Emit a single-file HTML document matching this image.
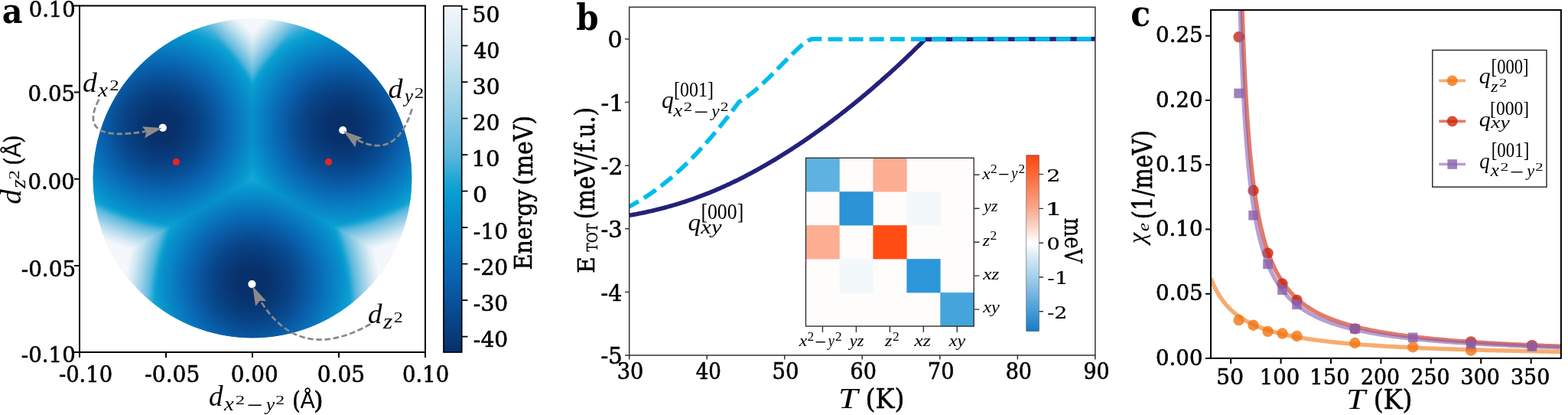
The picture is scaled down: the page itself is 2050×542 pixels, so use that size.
<!DOCTYPE html>
<html><head><meta charset="utf-8"><title>Figure</title>
<style>
html,body{margin:0;padding:0;background:#fff;}
body{width:2050px;height:542px;overflow:hidden;position:relative;}
#fb,#main{position:absolute;left:0;top:0;}
#hm{position:absolute;left:104px;top:8px;}
</style></head><body>
<svg id="fb" width="2050" height="542"><defs><radialGradient id="rg0" gradientUnits="userSpaceOnUse" cx="212.6" cy="165.9" r="260"><stop offset="0.000" stop-color="#08306b"/><stop offset="0.038" stop-color="#08306b"/><stop offset="0.077" stop-color="#08306b"/><stop offset="0.115" stop-color="#08326d"/><stop offset="0.154" stop-color="#083876"/><stop offset="0.192" stop-color="#083f80"/><stop offset="0.231" stop-color="#08478b"/><stop offset="0.269" stop-color="#085198"/><stop offset="0.308" stop-color="#095ca7"/><stop offset="0.346" stop-color="#0968b2"/><stop offset="0.385" stop-color="#0874bc"/><stop offset="0.423" stop-color="#0881c4"/><stop offset="0.462" stop-color="#078fca"/><stop offset="0.500" stop-color="#099ed1"/><stop offset="0.538" stop-color="#33acd7"/><stop offset="0.577" stop-color="#63bbde"/><stop offset="0.615" stop-color="#81c6e3"/><stop offset="0.654" stop-color="#9ed2e8"/><stop offset="0.692" stop-color="#badeed"/><stop offset="0.731" stop-color="#d3e8f3"/><stop offset="0.769" stop-color="#e8f2f8"/><stop offset="0.808" stop-color="#f4f7fb"/><stop offset="0.846" stop-color="#f4f7fb"/><stop offset="0.885" stop-color="#f4f7fb"/><stop offset="0.923" stop-color="#f4f7fb"/><stop offset="0.962" stop-color="#f4f7fb"/><stop offset="1.000" stop-color="#f4f7fb"/></radialGradient><radialGradient id="rg1" gradientUnits="userSpaceOnUse" cx="447.4" cy="165.9" r="260"><stop offset="0.000" stop-color="#08306b"/><stop offset="0.038" stop-color="#08306b"/><stop offset="0.077" stop-color="#08306b"/><stop offset="0.115" stop-color="#08326d"/><stop offset="0.154" stop-color="#083876"/><stop offset="0.192" stop-color="#083f80"/><stop offset="0.231" stop-color="#08478b"/><stop offset="0.269" stop-color="#085198"/><stop offset="0.308" stop-color="#095ca7"/><stop offset="0.346" stop-color="#0968b2"/><stop offset="0.385" stop-color="#0874bc"/><stop offset="0.423" stop-color="#0881c4"/><stop offset="0.462" stop-color="#078fca"/><stop offset="0.500" stop-color="#099ed1"/><stop offset="0.538" stop-color="#33acd7"/><stop offset="0.577" stop-color="#63bbde"/><stop offset="0.615" stop-color="#81c6e3"/><stop offset="0.654" stop-color="#9ed2e8"/><stop offset="0.692" stop-color="#badeed"/><stop offset="0.731" stop-color="#d3e8f3"/><stop offset="0.769" stop-color="#e8f2f8"/><stop offset="0.808" stop-color="#f4f7fb"/><stop offset="0.846" stop-color="#f4f7fb"/><stop offset="0.885" stop-color="#f4f7fb"/><stop offset="0.923" stop-color="#f4f7fb"/><stop offset="0.962" stop-color="#f4f7fb"/><stop offset="1.000" stop-color="#f4f7fb"/></radialGradient><radialGradient id="rg2" gradientUnits="userSpaceOnUse" cx="330.0" cy="369.5" r="260"><stop offset="0.000" stop-color="#08306b"/><stop offset="0.038" stop-color="#08306b"/><stop offset="0.077" stop-color="#08306b"/><stop offset="0.115" stop-color="#08326d"/><stop offset="0.154" stop-color="#083876"/><stop offset="0.192" stop-color="#083f80"/><stop offset="0.231" stop-color="#08478b"/><stop offset="0.269" stop-color="#085198"/><stop offset="0.308" stop-color="#095ca7"/><stop offset="0.346" stop-color="#0968b2"/><stop offset="0.385" stop-color="#0874bc"/><stop offset="0.423" stop-color="#0881c4"/><stop offset="0.462" stop-color="#078fca"/><stop offset="0.500" stop-color="#099ed1"/><stop offset="0.538" stop-color="#33acd7"/><stop offset="0.577" stop-color="#63bbde"/><stop offset="0.615" stop-color="#81c6e3"/><stop offset="0.654" stop-color="#9ed2e8"/><stop offset="0.692" stop-color="#badeed"/><stop offset="0.731" stop-color="#d3e8f3"/><stop offset="0.769" stop-color="#e8f2f8"/><stop offset="0.808" stop-color="#f4f7fb"/><stop offset="0.846" stop-color="#f4f7fb"/><stop offset="0.885" stop-color="#f4f7fb"/><stop offset="0.923" stop-color="#f4f7fb"/><stop offset="0.962" stop-color="#f4f7fb"/><stop offset="1.000" stop-color="#f4f7fb"/></radialGradient><linearGradient id="wg90" gradientUnits="userSpaceOnUse" x1="330.0" y1="111.6" x2="330.0" y2="25.8"><stop offset="0" stop-color="#9fd2ea" stop-opacity="0.2"/><stop offset="0.6" stop-color="#d8ebf5" stop-opacity="0.85"/><stop offset="1" stop-color="#f4f7fb"/></linearGradient><linearGradient id="wg210" gradientUnits="userSpaceOnUse" x1="224.3" y1="294.8" x2="149.9" y2="337.8"><stop offset="0" stop-color="#9fd2ea" stop-opacity="0.2"/><stop offset="0.6" stop-color="#d8ebf5" stop-opacity="0.85"/><stop offset="1" stop-color="#f4f7fb"/></linearGradient><linearGradient id="wg330" gradientUnits="userSpaceOnUse" x1="435.7" y1="294.8" x2="510.1" y2="337.8"><stop offset="0" stop-color="#9fd2ea" stop-opacity="0.2"/><stop offset="0.6" stop-color="#d8ebf5" stop-opacity="0.85"/><stop offset="1" stop-color="#f4f7fb"/></linearGradient><clipPath id="fbc"><circle cx="330" cy="233" r="208.3"/></clipPath></defs><g clip-path="url(#fbc)"><path d="M330,233.75 L330,-166.25 L-16.41,33.75 L-16.41,433.75Z" fill="url(#rg0)"/><path d="M330,233.75 L676.41,433.75 L676.41,33.75 L330,-166.25Z" fill="url(#rg1)"/><path d="M330,233.75 L-16.41,433.75 L330,633.75 L676.41,433.75Z" fill="url(#rg2)"/><path d="M330,111.58 L94.89,-212.03 L565.11,-212.03Z" fill="url(#wg90)"/><path d="M224.31,294.84 L134.33,684.59 L-158.21,177.89Z" fill="url(#wg210)"/><path d="M435.69,294.84 L818.21,177.89 L525.67,684.59Z" fill="url(#wg330)"/></g></svg>
<canvas id="hm" width="452" height="453"></canvas>
<svg id="main" width="2050" height="542">
<defs><linearGradient id="cba" x1="0" y1="0" x2="0" y2="1"><stop offset="0.0000" stop-color="#f4f7fb"/><stop offset="0.1141" stop-color="#d7eaf4"/><stop offset="0.2188" stop-color="#b4dbec"/><stop offset="0.3236" stop-color="#8bcae5"/><stop offset="0.4283" stop-color="#5cb8dd"/><stop offset="0.5016" stop-color="#20a6d5"/><stop offset="0.5330" stop-color="#0aa0d2"/><stop offset="0.5853" stop-color="#0793cc"/><stop offset="0.6901" stop-color="#087ac0"/><stop offset="0.7948" stop-color="#0960ac"/><stop offset="0.8995" stop-color="#08468a"/><stop offset="1.0000" stop-color="#08306b"/></linearGradient><linearGradient id="cbb" x1="0" y1="0" x2="0" y2="1"><stop offset="0" stop-color="#fc4510"/><stop offset="0.1" stop-color="#fc6534"/><stop offset="0.3" stop-color="#f9a68a"/><stop offset="0.42" stop-color="#fcdcd0"/><stop offset="0.5" stop-color="#ffffff"/><stop offset="0.58" stop-color="#d6e9f6"/><stop offset="0.7" stop-color="#a0cdeb"/><stop offset="0.9" stop-color="#3d98d6"/><stop offset="1" stop-color="#1a7ac4"/></linearGradient><clipPath id="clipb"><rect x="822.7" y="9.3" width="609.2" height="454.7"/></clipPath><clipPath id="clipc"><rect x="1583" y="13.1" width="457.9" height="454.8"/></clipPath></defs>
<circle cx="212.8" cy="166.8" r="5.1" fill="#fff"/>
<circle cx="448.2" cy="170" r="5.1" fill="#fff"/>
<circle cx="329.4" cy="371.1" r="5.1" fill="#fff"/>
<circle cx="230.4" cy="211.4" r="4.6" fill="#ee2020"/>
<circle cx="429.6" cy="211.4" r="4.6" fill="#ee2020"/>
<path d="M129.5,129.7 Q98.8,187.42 191.21,171.49" fill="none" stroke="#8a8a8a" stroke-width="2.7" stroke-dasharray="7.6 3.6"/>
<path d="M212.1,167.3 L189.13,180.46 L191.32,171.97 L185.71,165.24 Z" fill="#8a8a8a"/>
<path d="M538.7,142.4 Q518.05,209.12 466.9,182.6" fill="none" stroke="#8a8a8a" stroke-width="2.7" stroke-dasharray="7.6 3.6"/>
<path d="M448.9,171.1 L473.83,180.02 L465.95,183.87 L464.47,192.51 Z" fill="#8a8a8a"/>
<path d="M484.3,423.2 Q391.28,475.71 340.45,392.62" fill="none" stroke="#8a8a8a" stroke-width="2.7" stroke-dasharray="7.6 3.6"/>
<path d="M330.3,373.8 L348.24,393.27 L339.48,393.02 L334.16,399.99 Z" fill="#8a8a8a"/>
<rect x="104" y="7.5" width="452" height="452.5" fill="none" stroke="#000" stroke-width="2"/>
<path d="M97,7.5H104 M556,460V467 M97,120.62H104 M443,460V467 M97,233.75H104 M330,460V467 M97,346.88H104 M217,460V467 M97,460H104 M104,460V467" stroke="#000" stroke-width="2" fill="none"/>
<rect x="580" y="7.75" width="23.7" height="452.25" fill="url(#cba)" stroke="#000" stroke-width="1.7"/>
<path d="M603.8,12.1H611.5 M603.8,59.6H611.5 M603.8,107.1H611.5 M603.8,154.6H611.5 M603.8,202.1H611.5 M603.8,249.6H611.5 M603.8,297.1H611.5 M603.8,344.6H611.5 M603.8,392.1H611.5 M603.8,439.6H611.5" stroke="#000" stroke-width="1.7" fill="none"/>
<g clip-path="url(#clipb)"><path d="M822,281.44 L824,281.1 L825.99,280.74 L827.99,280.38 L829.99,280.01 L831.98,279.64 L833.98,279.25 L835.97,278.86 L837.97,278.46 L839.97,278.05 L841.96,277.64 L843.96,277.21 L845.96,276.78 L847.95,276.34 L849.95,275.89 L851.95,275.44 L853.94,274.97 L855.94,274.5 L857.94,274.02 L859.93,273.53 L861.93,273.03 L863.92,272.52 L865.92,272.01 L867.92,271.48 L869.91,270.95 L871.91,270.41 L873.91,269.86 L875.9,269.3 L877.9,268.73 L879.9,268.16 L881.89,267.57 L883.89,266.98 L885.88,266.37 L887.88,265.76 L889.88,265.14 L891.87,264.51 L893.87,263.87 L895.87,263.22 L897.86,262.56 L899.86,261.89 L901.86,261.22 L903.85,260.53 L905.85,259.83 L907.84,259.13 L909.84,258.41 L911.84,257.69 L913.83,256.95 L915.83,256.21 L917.83,255.46 L919.82,254.69 L921.82,253.92 L923.82,253.14 L925.81,252.35 L927.81,251.54 L929.81,250.73 L931.8,249.91 L933.8,249.08 L935.79,248.23 L937.79,247.38 L939.79,246.52 L941.78,245.65 L943.78,244.77 L945.78,243.87 L947.77,242.97 L949.77,242.06 L951.77,241.14 L953.76,240.21 L955.76,239.27 L957.75,238.32 L959.75,237.36 L961.75,236.39 L963.74,235.42 L965.74,234.43 L967.74,233.43 L969.73,232.43 L971.73,231.41 L973.73,230.39 L975.72,229.36 L977.72,228.31 L979.71,227.26 L981.71,226.2 L983.71,225.13 L985.7,224.05 L987.7,222.97 L989.7,221.87 L991.69,220.77 L993.69,219.65 L995.69,218.53 L997.68,217.4 L999.68,216.26 L1001.68,215.11 L1003.67,213.95 L1005.67,212.79 L1007.66,211.61 L1009.66,210.43 L1011.66,209.24 L1013.65,208.04 L1015.65,206.83 L1017.65,205.62 L1019.64,204.39 L1021.64,203.16 L1023.64,201.92 L1025.63,200.67 L1027.63,199.41 L1029.62,198.15 L1031.62,196.88 L1033.62,195.59 L1035.61,194.31 L1037.61,193.01 L1039.61,191.7 L1041.6,190.39 L1043.6,189.07 L1045.6,187.74 L1047.59,186.4 L1049.59,185.06 L1051.59,183.71 L1053.58,182.34 L1055.58,180.98 L1057.57,179.6 L1059.57,178.21 L1061.57,176.82 L1063.56,175.42 L1065.56,174.01 L1067.56,172.59 L1069.55,171.17 L1071.55,169.74 L1073.55,168.3 L1075.54,166.85 L1077.54,165.39 L1079.53,163.93 L1081.53,162.46 L1083.53,160.98 L1085.52,159.49 L1087.52,157.99 L1089.52,156.49 L1091.51,154.98 L1093.51,153.46 L1095.51,151.93 L1097.5,150.4 L1099.5,148.85 L1101.49,147.3 L1103.49,145.74 L1105.49,144.18 L1107.48,142.6 L1109.48,141.02 L1111.48,139.43 L1113.47,137.83 L1115.47,136.23 L1117.47,134.61 L1119.46,132.99 L1121.46,131.36 L1123.46,129.72 L1125.45,128.08 L1127.45,126.43 L1129.44,124.77 L1131.44,123.1 L1133.44,121.42 L1135.43,119.74 L1137.43,118.05 L1139.43,116.35 L1141.42,114.64 L1143.42,112.92 L1145.42,111.2 L1147.41,109.47 L1149.41,107.73 L1151.4,105.98 L1153.4,104.23 L1155.4,102.46 L1157.39,100.69 L1159.39,98.91 L1161.39,97.12 L1163.38,95.32 L1165.38,93.51 L1167.38,91.7 L1169.37,89.87 L1171.37,88.04 L1173.36,86.2 L1175.36,84.34 L1177.36,82.48 L1179.35,80.61 L1181.35,78.73 L1183.35,76.84 L1185.34,74.94 L1187.34,73.04 L1189.34,71.12 L1191.33,69.19 L1193.33,67.25 L1195.33,65.31 L1197.32,63.35 L1199.32,61.38 L1201.31,59.4 L1203.31,57.42 L1205.31,55.42 L1207.3,53.41 L1209.3,51.39 L1432.5,50.9" fill="none" stroke="#23217a" stroke-width="5.6"/>
<path id="dash" d="M822,269.97 L823.98,268.96 L825.95,267.92 L827.93,266.86 L829.91,265.77 L831.88,264.66 L833.86,263.53 L835.84,262.36 L837.81,261.18 L839.79,259.96 L841.77,258.73 L843.74,257.46 L845.72,256.18 L847.7,254.87 L849.67,253.53 L851.65,252.17 L853.63,250.78 L855.6,249.37 L857.58,247.93 L859.56,246.47 L861.53,244.99 L863.51,243.48 L865.49,241.95 L867.46,240.39 L869.44,238.81 L871.42,237.2 L873.39,235.57 L875.37,233.92 L877.35,232.24 L879.32,230.54 L881.3,228.81 L883.28,227.06 L885.25,225.29 L887.23,223.49 L889.21,221.67 L891.18,219.83 L893.16,217.96 L895.14,216.07 L897.12,214.15 L899.09,212.22 L901.07,210.25 L903.05,208.27 L905.02,206.26 L907,204.23 L908.98,202.18 L910.95,200.1 L912.93,198 L914.91,195.88 L916.88,193.73 L918.86,191.56 L920.84,189.37 L922.81,187.16 L924.79,184.92 L926.77,182.66 L928.74,180.38 L930.72,178.08 L932.7,175.75 L934.67,173.41 L936.65,171.03 L938.63,168.64 L940.6,166.23 L942.58,163.79 L944.56,161.33 L946.53,158.85 L948.51,156.35 L950.49,153.82 L952.46,151.28 L954.44,148.71 L956.42,146.12 L958.39,143.51 L960.37,140.87 L962.35,138.22 L964.32,135.54 L966.3,132.84 L968.29,131.86 L970.29,130.63 L972.28,129.34 L974.28,128 L976.27,126.59 L978.27,125.14 L980.26,123.63 L982.26,122.07 L984.25,120.47 L986.25,118.82 L988.24,117.13 L990.24,115.4 L992.23,113.64 L994.23,111.83 L996.22,110 L998.22,108.14 L1000.21,106.25 L1002.21,104.33 L1004.2,102.4 L1006.19,100.44 L1008.19,98.46 L1010.18,96.47 L1012.18,94.47 L1014.17,92.46 L1016.17,90.44 L1018.16,88.41 L1020.16,86.38 L1022.15,84.35 L1024.15,82.33 L1026.14,80.3 L1028.14,78.29 L1030.13,76.28 L1032.13,74.28 L1034.12,72.3 L1036.12,70.33 L1038.11,68.39 L1040.11,66.46 L1042.1,64.56 L1044.09,62.7 L1046.09,60.9 L1048.08,59.17 L1050.08,57.54 L1052.07,56.02 L1054.07,54.64 L1056.06,53.4 L1058.06,52.33 L1060.05,51.45 L1062.05,50.9 L1064.04,50.9 L1066.04,50.9 L1068.03,50.9 L1070.03,50.9 L1072.02,50.9 L1074.02,50.9 L1076.01,50.94 L1078.01,51.15 L1080,51.25 L1432.5,50.9" fill="none" stroke="#00bcec" stroke-width="5.6" stroke-dasharray="19 8.1" stroke-dashoffset="4.25"/></g>
<rect x="822.7" y="9.3" width="609.2" height="454.7" fill="none" stroke="#333" stroke-width="1.5"/>
<path d="M817.1,50.9H822.7 M817.1,133.52H822.7 M817.1,216.14H822.7 M817.1,298.76H822.7 M817.1,381.38H822.7 M817.1,464H822.7 M822.7,464V469.5 M924.23,464V469.5 M1025.76,464V469.5 M1127.29,464V469.5 M1228.82,464V469.5 M1330.35,464V469.5 M1431.88,464V469.5" stroke="#333" stroke-width="1.5" fill="none"/>
<rect x="1053.5" y="206.3" width="219.75" height="219.75" fill="#fffcfc"/>
<rect x="1053.50" y="206.30" width="44.25" height="44.25" fill="#5db2e2"/>
<rect x="1141.40" y="206.30" width="44.25" height="44.25" fill="#fdad92"/>
<rect x="1097.45" y="250.25" width="44.25" height="44.25" fill="#2c93d6"/>
<rect x="1185.35" y="250.25" width="44.25" height="44.25" fill="#f3f8fb"/>
<rect x="1053.50" y="294.20" width="44.25" height="44.25" fill="#fdad92"/>
<rect x="1141.40" y="294.20" width="44.25" height="44.25" fill="#ff4d14"/>
<rect x="1097.45" y="338.15" width="44.25" height="44.25" fill="#f3f8fb"/>
<rect x="1185.35" y="338.15" width="44.25" height="44.25" fill="#2c97d8"/>
<rect x="1229.30" y="382.10" width="44.25" height="44.25" fill="#44a5dc"/>
<rect x="1053.5" y="206.3" width="219.75" height="219.75" fill="none" stroke="#333" stroke-width="1.4"/>
<path d="M1273.25,228.28h7.3 M1273.25,272.23h7.3 M1273.25,316.18h7.3 M1273.25,360.12h7.3 M1273.25,404.08h7.3 M1075.47,426.05v8 M1119.42,426.05v8 M1163.38,426.05v8 M1207.33,426.05v8 M1251.28,426.05v8" stroke="#333" stroke-width="1.4" fill="none"/>
<rect x="1341.8" y="202.7" width="16.7" height="229.9" fill="url(#cbb)" stroke="#555" stroke-width="0.6"/>
<path d="M1358.5,227.6h5.5 M1358.5,272.4h5.5 M1358.5,317.2h5.5 M1358.5,362h5.5 M1358.5,406.8h5.5" stroke="#333" stroke-width="1.4" fill="none"/>
<g clip-path="url(#clipc)">
<path d="M1583,363.47 L1583.33,364.31 L1583.66,365.14 L1583.99,365.96 L1584.32,366.76 L1584.65,367.55 L1584.98,368.33 L1585.31,369.1 L1585.64,369.85 L1585.97,370.59 L1586.3,371.33 L1586.63,372.05 L1586.96,372.76 L1587.29,373.46 L1587.62,374.15 L1587.95,374.83 L1588.28,375.5 L1588.61,376.16 L1588.94,376.81 L1589.27,377.45 L1589.6,378.08 L1589.93,378.71 L1590.26,379.32 L1590.59,379.93 L1590.92,380.53 L1591.25,381.12 L1591.58,381.7 L1591.91,382.27 L1592.24,382.84 L1592.56,383.4 L1592.89,383.95 L1593.22,384.5 L1593.55,385.04 L1593.88,385.57 L1594.21,386.09 L1594.54,386.61 L1594.87,387.12 L1595.2,387.63 L1595.53,388.13 L1595.86,388.62 L1596.19,389.11 L1596.52,389.59 L1596.85,390.06 L1597.18,390.53 L1597.51,390.99 L1597.84,391.45 L1598.17,391.9 L1598.5,392.35 L1598.83,392.79 L1599.16,393.23 L1599.49,393.66 L1599.82,394.09 L1600.15,394.51 L1600.48,394.93 L1600.81,395.34 L1601.14,395.75 L1601.47,396.15 L1601.8,396.55 L1602.13,396.94 L1602.46,397.33 L1602.79,397.72 L1603.12,398.1 L1603.45,398.48 L1603.78,398.85 L1604.11,399.22 L1604.44,399.59 L1604.77,399.95 L1605.1,400.31 L1605.43,400.66 L1605.76,401.01 L1606.09,401.36 L1606.42,401.7 L1606.75,402.04 L1607.08,402.38 L1607.41,402.71 L1607.74,403.04 L1608.07,403.36 L1608.4,403.69 L1608.73,404.01 L1609.06,404.32 L1609.39,404.64 L1609.72,404.95 L1610.05,405.25 L1610.38,405.56 L1610.71,405.86 L1611.04,406.16 L1611.36,406.45 L1611.69,406.75 L1612.02,407.04 L1612.35,407.32 L1612.68,407.61 L1613.01,407.89 L1613.34,408.17 L1613.67,408.44 L1614,408.72 L1614.33,408.99 L1614.66,409.26 L1614.99,409.53 L1615.32,409.79 L1615.65,410.05 L1615.98,410.31 L1616.31,410.57 L1616.64,410.82 L1616.97,411.08 L1617.3,411.33 L1617.63,411.57 L1617.96,411.82 L1618.29,412.06 L1618.62,412.31 L1618.95,412.55 L1619.28,412.78 L1619.61,413.02 L1619.94,413.25 L1620.27,413.48 L1620.6,413.71 L1620.93,413.94 L1621.26,414.17 L1621.59,414.39 L1621.92,414.61 L1622.25,414.83 L1625.77,417.07 L1629.29,419.13 L1632.8,421.03 L1636.32,422.79 L1639.84,424.42 L1643.36,425.93 L1646.88,427.35 L1650.39,428.67 L1653.91,429.91 L1657.43,431.07 L1660.95,432.16 L1664.47,433.19 L1667.98,434.17 L1671.5,435.09 L1675.02,435.96 L1678.54,436.78 L1682.06,437.57 L1685.58,438.31 L1689.09,439.02 L1692.61,439.7 L1696.13,440.35 L1699.65,440.96 L1703.17,441.55 L1706.68,442.12 L1710.2,442.66 L1713.72,443.18 L1717.24,443.67 L1720.76,444.15 L1724.27,444.61 L1727.79,445.05 L1731.31,445.48 L1734.83,445.89 L1738.35,446.28 L1741.87,446.66 L1745.38,447.03 L1748.9,447.39 L1752.42,447.73 L1755.94,448.06 L1759.46,448.39 L1762.97,448.7 L1766.49,449 L1770.01,449.29 L1773.53,449.57 L1777.05,449.85 L1780.56,450.12 L1784.08,450.37 L1787.6,450.63 L1791.12,450.87 L1794.64,451.11 L1798.15,451.34 L1801.67,451.56 L1805.19,451.78 L1808.71,452 L1812.23,452.2 L1815.75,452.41 L1819.26,452.6 L1822.78,452.79 L1826.3,452.98 L1829.82,453.16 L1833.34,453.34 L1836.85,453.52 L1840.37,453.69 L1843.89,453.85 L1847.41,454.01 L1850.93,454.17 L1854.44,454.33 L1857.96,454.48 L1861.48,454.63 L1865,454.77 L1868.52,454.91 L1872.04,455.05 L1875.55,455.19 L1879.07,455.32 L1882.59,455.45 L1886.11,455.58 L1889.63,455.7 L1893.14,455.83 L1896.66,455.94 L1900.18,456.06 L1903.7,456.18 L1907.22,456.29 L1910.73,456.4 L1914.25,456.51 L1917.77,456.62 L1921.29,456.72 L1924.81,456.82 L1928.33,456.93 L1931.84,457.03 L1935.36,457.12 L1938.88,457.22 L1942.4,457.31 L1945.92,457.4 L1949.43,457.5 L1952.95,457.58 L1956.47,457.67 L1959.99,457.76 L1963.51,457.84 L1967.02,457.93 L1970.54,458.01 L1974.06,458.09 L1977.58,458.17 L1981.1,458.25 L1984.62,458.32 L1988.13,458.4 L1991.65,458.47 L1995.17,458.55 L1998.69,458.62 L2002.21,458.69 L2005.72,458.76 L2009.24,458.83 L2012.76,458.9 L2016.28,458.96 L2019.8,459.03 L2023.31,459.09 L2026.83,459.16 L2030.35,459.22 L2033.87,459.28 L2037.39,459.34 L2040.9,459.4" fill="none" stroke="#f27410" stroke-opacity="0.6" stroke-width="5.5" stroke-linejoin="round"/>
<circle cx="1619.63" cy="418.04" r="7.2" fill="#f27410" fill-opacity="0.8"/>
<circle cx="1638.60" cy="424.78" r="7.2" fill="#f27410" fill-opacity="0.8"/>
<circle cx="1657.57" cy="432.86" r="7.2" fill="#f27410" fill-opacity="0.8"/>
<circle cx="1676.54" cy="435.56" r="7.2" fill="#f27410" fill-opacity="0.8"/>
<circle cx="1695.51" cy="438.93" r="7.2" fill="#f27410" fill-opacity="0.8"/>
<circle cx="1771.40" cy="448.02" r="7.2" fill="#f27410" fill-opacity="0.8"/>
<circle cx="1847.28" cy="453.25" r="7.2" fill="#f27410" fill-opacity="0.8"/>
<circle cx="1923.16" cy="457.63" r="7.2" fill="#f27410" fill-opacity="0.8"/>
<path d="M1623.31,-12.15 L1623.64,-1.09 L1623.97,9.47 L1624.3,19.57 L1624.63,29.23 L1624.95,38.49 L1625.28,47.36 L1625.61,55.88 L1625.94,64.05 L1626.27,71.91 L1626.6,79.47 L1626.93,86.74 L1627.26,93.75 L1627.59,100.5 L1627.92,107.02 L1628.25,113.31 L1628.58,119.38 L1628.91,125.25 L1629.24,130.92 L1629.57,136.41 L1629.9,141.72 L1630.23,146.87 L1630.56,151.85 L1630.89,156.69 L1631.22,161.37 L1631.55,165.92 L1631.88,170.34 L1632.21,174.63 L1632.54,178.79 L1632.87,182.84 L1633.2,186.78 L1633.53,190.61 L1633.86,194.34 L1634.19,197.96 L1634.52,201.5 L1634.85,204.94 L1635.18,208.29 L1635.51,211.56 L1635.84,214.75 L1636.17,217.86 L1636.5,220.9 L1636.83,223.86 L1637.16,226.75 L1637.49,229.57 L1637.82,232.33 L1638.15,235.03 L1638.48,237.66 L1638.81,240.24 L1639.14,242.76 L1639.47,245.22 L1639.8,247.63 L1640.13,249.99 L1640.46,252.3 L1640.79,254.56 L1641.12,256.77 L1641.45,258.94 L1641.78,261.06 L1642.11,263.14 L1642.44,265.18 L1642.77,267.18 L1643.1,269.14 L1643.42,271.06 L1643.75,272.95 L1644.08,274.8 L1644.41,276.61 L1644.74,278.4 L1645.07,280.14 L1645.4,281.86 L1645.73,283.55 L1646.06,285.2 L1646.39,286.83 L1646.72,288.42 L1647.05,289.99 L1647.38,291.53 L1647.71,293.05 L1648.04,294.54 L1648.37,296 L1648.7,297.44 L1649.03,298.86 L1649.36,300.25 L1649.69,301.62 L1650.02,302.97 L1650.35,304.29 L1650.68,305.6 L1651.01,306.88 L1651.34,308.15 L1651.67,309.39 L1652,310.62 L1652.33,311.82 L1652.66,313.01 L1652.99,314.18 L1653.32,315.33 L1653.65,316.47 L1653.98,317.59 L1654.31,318.69 L1654.64,319.77 L1654.97,320.84 L1655.3,321.9 L1655.63,322.94 L1655.96,323.96 L1656.29,324.98 L1656.62,325.97 L1656.95,326.95 L1657.28,327.92 L1657.61,328.88 L1657.94,329.82 L1658.27,330.75 L1658.6,331.67 L1658.93,332.58 L1659.26,333.47 L1659.59,334.35 L1659.92,335.22 L1660.25,336.08 L1660.58,336.93 L1660.91,337.77 L1661.24,338.6 L1661.57,339.41 L1661.9,340.22 L1662.22,341.01 L1662.55,341.8 L1665.73,348.91 L1668.91,355.26 L1672.09,360.96 L1675.27,366.12 L1678.45,370.8 L1681.63,375.07 L1684.81,378.98 L1687.99,382.57 L1691.17,385.89 L1694.35,388.95 L1697.53,391.8 L1700.71,394.45 L1703.89,396.92 L1707.07,399.23 L1710.25,401.39 L1713.43,403.42 L1716.6,405.33 L1719.78,407.13 L1722.96,408.83 L1726.14,410.44 L1729.32,411.96 L1732.5,413.41 L1735.68,414.78 L1738.86,416.08 L1742.04,417.32 L1745.22,418.51 L1748.4,419.64 L1751.58,420.71 L1754.76,421.75 L1757.94,422.73 L1761.12,423.68 L1764.3,424.59 L1767.48,425.46 L1770.65,426.29 L1773.83,427.1 L1777.01,427.87 L1780.19,428.62 L1783.37,429.33 L1786.55,430.03 L1789.73,430.69 L1792.91,431.34 L1796.09,431.96 L1799.27,432.56 L1802.45,433.14 L1805.63,433.71 L1808.81,434.25 L1811.99,434.78 L1815.17,435.29 L1818.35,435.79 L1821.53,436.27 L1824.7,436.73 L1827.88,437.19 L1831.06,437.63 L1834.24,438.06 L1837.42,438.47 L1840.6,438.88 L1843.78,439.27 L1846.96,439.65 L1850.14,440.03 L1853.32,440.39 L1856.5,440.74 L1859.68,441.09 L1862.86,441.42 L1866.04,441.75 L1869.22,442.07 L1872.4,442.38 L1875.58,442.69 L1878.75,442.99 L1881.93,443.28 L1885.11,443.56 L1888.29,443.84 L1891.47,444.11 L1894.65,444.37 L1897.83,444.63 L1901.01,444.89 L1904.19,445.14 L1907.37,445.38 L1910.55,445.62 L1913.73,445.85 L1916.91,446.08 L1920.09,446.3 L1923.27,446.52 L1926.45,446.73 L1929.63,446.94 L1932.8,447.15 L1935.98,447.35 L1939.16,447.55 L1942.34,447.74 L1945.52,447.93 L1948.7,448.12 L1951.88,448.3 L1955.06,448.49 L1958.24,448.66 L1961.42,448.84 L1964.6,449.01 L1967.78,449.17 L1970.96,449.34 L1974.14,449.5 L1977.32,449.66 L1980.5,449.82 L1983.68,449.97 L1986.85,450.12 L1990.03,450.27 L1993.21,450.41 L1996.39,450.56 L1999.57,450.7 L2002.75,450.84 L2005.93,450.98 L2009.11,451.11 L2012.29,451.24 L2015.47,451.37 L2018.65,451.5 L2021.83,451.63 L2025.01,451.75 L2028.19,451.87 L2031.37,452 L2034.55,452.11 L2037.73,452.23 L2040.9,452.35" fill="none" stroke="#cf2309" stroke-opacity="0.6" stroke-width="5.5" stroke-linejoin="round"/>
<circle cx="1619.63" cy="48.32" r="7.2" fill="#cf2309" fill-opacity="0.8"/>
<circle cx="1638.60" cy="248.76" r="7.2" fill="#cf2309" fill-opacity="0.8"/>
<circle cx="1657.57" cy="330.62" r="7.2" fill="#cf2309" fill-opacity="0.8"/>
<circle cx="1676.54" cy="370.54" r="7.2" fill="#cf2309" fill-opacity="0.8"/>
<circle cx="1695.51" cy="391.93" r="7.2" fill="#cf2309" fill-opacity="0.8"/>
<circle cx="1771.40" cy="429.33" r="7.2" fill="#cf2309" fill-opacity="0.8"/>
<circle cx="1923.16" cy="446.34" r="7.2" fill="#cf2309" fill-opacity="0.8"/>
<circle cx="2002.96" cy="451.11" r="7.2" fill="#cf2309" fill-opacity="0.8"/>
<path d="M1620.58,-12.15 L1620.91,-0.05 L1621.24,11.46 L1621.57,22.42 L1621.9,32.87 L1622.23,42.83 L1622.56,52.35 L1622.89,61.46 L1623.22,70.17 L1623.55,78.52 L1623.88,86.52 L1624.21,94.2 L1624.54,101.58 L1624.87,108.67 L1625.2,115.49 L1625.53,122.06 L1625.86,128.39 L1626.19,134.49 L1626.52,140.38 L1626.85,146.06 L1627.18,151.55 L1627.51,156.85 L1627.84,161.98 L1628.17,166.94 L1628.5,171.74 L1628.83,176.4 L1629.15,180.91 L1629.48,185.28 L1629.81,189.52 L1630.14,193.63 L1630.47,197.63 L1630.8,201.51 L1631.13,205.28 L1631.46,208.94 L1631.79,212.51 L1632.12,215.98 L1632.45,219.35 L1632.78,222.64 L1633.11,225.84 L1633.44,228.95 L1633.77,231.99 L1634.1,234.95 L1634.43,237.84 L1634.76,240.66 L1635.09,243.41 L1635.42,246.09 L1635.75,248.71 L1636.08,251.27 L1636.41,253.77 L1636.74,256.21 L1637.07,258.6 L1637.4,260.94 L1637.73,263.22 L1638.06,265.45 L1638.39,267.64 L1638.72,269.78 L1639.05,271.87 L1639.38,273.92 L1639.71,275.93 L1640.04,277.89 L1640.37,279.82 L1640.7,281.71 L1641.03,283.56 L1641.36,285.37 L1641.69,287.15 L1642.02,288.89 L1642.35,290.6 L1642.68,292.28 L1643.01,293.93 L1643.34,295.54 L1643.67,297.13 L1644,298.69 L1644.33,300.22 L1644.66,301.72 L1644.99,303.19 L1645.32,304.64 L1645.65,306.07 L1645.98,307.47 L1646.31,308.84 L1646.64,310.19 L1646.97,311.52 L1647.3,312.83 L1647.62,314.11 L1647.95,315.38 L1648.28,316.62 L1648.61,317.85 L1648.94,319.05 L1649.27,320.23 L1649.6,321.4 L1649.93,322.55 L1650.26,323.68 L1650.59,324.79 L1650.92,325.88 L1651.25,326.96 L1651.58,328.03 L1651.91,329.07 L1652.24,330.1 L1652.57,331.12 L1652.9,332.12 L1653.23,333.11 L1653.56,334.08 L1653.89,335.04 L1654.22,335.98 L1654.55,336.91 L1654.88,337.83 L1655.21,338.74 L1655.54,339.63 L1655.87,340.51 L1656.2,341.38 L1656.53,342.24 L1656.86,343.08 L1657.19,343.92 L1657.52,344.74 L1657.85,345.55 L1658.18,346.35 L1658.51,347.14 L1658.84,347.92 L1659.17,348.69 L1659.5,349.46 L1659.83,350.21 L1663.03,357.03 L1666.23,363.11 L1669.44,368.56 L1672.64,373.47 L1675.84,377.92 L1679.04,381.96 L1682.24,385.66 L1685.45,389.05 L1688.65,392.18 L1691.85,395.06 L1695.05,397.74 L1698.26,400.22 L1701.46,402.54 L1704.66,404.7 L1707.86,406.72 L1711.07,408.62 L1714.27,410.4 L1717.47,412.08 L1720.67,413.67 L1723.87,415.16 L1727.08,416.58 L1730.28,417.92 L1733.48,419.2 L1736.68,420.41 L1739.89,421.56 L1743.09,422.66 L1746.29,423.7 L1749.49,424.7 L1752.7,425.66 L1755.9,426.57 L1759.1,427.44 L1762.3,428.28 L1765.51,429.09 L1768.71,429.86 L1771.91,430.6 L1775.11,431.32 L1778.31,432 L1781.52,432.67 L1784.72,433.3 L1787.92,433.92 L1791.12,434.51 L1794.33,435.09 L1797.53,435.64 L1800.73,436.18 L1803.93,436.69 L1807.14,437.19 L1810.34,437.68 L1813.54,438.15 L1816.74,438.61 L1819.94,439.05 L1823.15,439.48 L1826.35,439.89 L1829.55,440.3 L1832.75,440.69 L1835.96,441.07 L1839.16,441.45 L1842.36,441.81 L1845.56,442.16 L1848.77,442.5 L1851.97,442.83 L1855.17,443.16 L1858.37,443.47 L1861.57,443.78 L1864.78,444.08 L1867.98,444.38 L1871.18,444.66 L1874.38,444.94 L1877.59,445.21 L1880.79,445.48 L1883.99,445.74 L1887.19,445.99 L1890.4,446.24 L1893.6,446.49 L1896.8,446.72 L1900,446.95 L1903.21,447.18 L1906.41,447.4 L1909.61,447.62 L1912.81,447.83 L1916.01,448.04 L1919.22,448.25 L1922.42,448.45 L1925.62,448.64 L1928.82,448.84 L1932.03,449.02 L1935.23,449.21 L1938.43,449.39 L1941.63,449.57 L1944.84,449.74 L1948.04,449.91 L1951.24,450.08 L1954.44,450.24 L1957.64,450.41 L1960.85,450.56 L1964.05,450.72 L1967.25,450.87 L1970.45,451.02 L1973.66,451.17 L1976.86,451.32 L1980.06,451.46 L1983.26,451.6 L1986.47,451.74 L1989.67,451.87 L1992.87,452.01 L1996.07,452.14 L1999.27,452.27 L2002.48,452.39 L2005.68,452.52 L2008.88,452.64 L2012.08,452.76 L2015.29,452.88 L2018.49,453 L2021.69,453.11 L2024.89,453.23 L2028.1,453.34 L2031.3,453.45 L2034.5,453.56 L2037.7,453.66 L2040.9,453.77" fill="none" stroke="#8860ae" stroke-opacity="0.6" stroke-width="5.5" stroke-linejoin="round"/>
<rect x="1613.33" y="115.62" width="12.6" height="12.6" fill="#8860ae" fill-opacity="0.8"/>
<rect x="1632.30" y="274.97" width="12.6" height="12.6" fill="#8860ae" fill-opacity="0.8"/>
<rect x="1651.27" y="338.64" width="12.6" height="12.6" fill="#8860ae" fill-opacity="0.8"/>
<rect x="1670.24" y="372.33" width="12.6" height="12.6" fill="#8860ae" fill-opacity="0.8"/>
<rect x="1689.21" y="391.36" width="12.6" height="12.6" fill="#8860ae" fill-opacity="0.8"/>
<rect x="1765.10" y="423.03" width="12.6" height="12.6" fill="#8860ae" fill-opacity="0.8"/>
<rect x="1840.98" y="434.48" width="12.6" height="12.6" fill="#8860ae" fill-opacity="0.8"/>
<rect x="1916.86" y="443.07" width="12.6" height="12.6" fill="#8860ae" fill-opacity="0.8"/>
<rect x="1996.66" y="446.27" width="12.6" height="12.6" fill="#8860ae" fill-opacity="0.8"/>
</g>
<rect x="1583" y="13.1" width="457.9" height="454.8" fill="none" stroke="#000" stroke-width="2"/>
<path d="M1576,467.9H1583 M1576,383.68H1583 M1576,299.46H1583 M1576,215.24H1583 M1576,131.02H1583 M1576,46.8H1583 M1609.17,467.9V474.9 M1674.58,467.9V474.9 M1740,467.9V474.9 M1805.41,467.9V474.9 M1870.83,467.9V474.9 M1936.24,467.9V474.9 M2001.66,467.9V474.9" stroke="#000" stroke-width="2" fill="none"/>
<rect x="1872.8" y="65.5" width="149.2" height="178.7" fill="#fff" fill-opacity="0.8" stroke="#222" stroke-width="1.4"/>
<path d="M1881.3,105.4H1916.1" stroke="#f27410" stroke-opacity="0.6" stroke-width="3.6"/>
<circle cx="1898.7" cy="105.4" r="7" fill="#f27410" fill-opacity="0.8"/>
<path d="M1881.3,158.4H1916.1" stroke="#cf2309" stroke-opacity="0.6" stroke-width="3.6"/>
<circle cx="1898.7" cy="158.4" r="7" fill="#cf2309" fill-opacity="0.8"/>
<path d="M1881.3,214.5H1916.1" stroke="#8860ae" stroke-opacity="0.6" stroke-width="3.6"/>
<rect x="1892.40" y="208.20" width="12.6" height="12.6" fill="#8860ae" fill-opacity="0.8"/>
<text transform="translate(2.74,30.15) scale(0.4138,0.4500)" style="font:bold 100px 'DejaVu Serif', serif;font-size:100px" fill="#000">a</text>
<text transform="translate(753.16,38.54) scale(0.4203,0.4584)" style="font:bold 100px 'DejaVu Serif', serif;font-size:100px" fill="#000">b</text>
<text transform="translate(1478.29,33.54) scale(0.4269,0.4611)" style="font:bold 100px 'DejaVu Serif', serif;font-size:100px" fill="#000">c</text>
<text transform="translate(37.68,22.21) scale(0.2746,0.2880)" style="font:100px 'DejaVu Serif', serif;font-size:100px" fill="#000" stroke="#000" stroke-width="2.13">0.10</text>
<text transform="translate(36.56,132.41) scale(0.2764,0.2880)" style="font:100px 'DejaVu Serif', serif;font-size:100px" fill="#000" stroke="#000" stroke-width="2.13">0.05</text>
<text transform="translate(36.57,246.52) scale(0.2751,0.2773)" style="font:100px 'DejaVu Serif', serif;font-size:100px" fill="#000" stroke="#000" stroke-width="2.17">0.00</text>
<text transform="translate(27.79,361.02) scale(0.2780,0.2840)" style="font:100px 'DejaVu Serif', serif;font-size:100px" fill="#000" stroke="#000" stroke-width="2.14">-0.05</text>
<text transform="translate(27.79,473.12) scale(0.2768,0.2827)" style="font:100px 'DejaVu Serif', serif;font-size:100px" fill="#000" stroke="#000" stroke-width="2.14">-0.10</text>
<text transform="translate(76.90,498.71) scale(0.2740,0.2933)" style="font:100px 'DejaVu Serif', serif;font-size:100px" fill="#000" stroke="#000" stroke-width="2.12">-0.10</text>
<text transform="translate(189.28,498.71) scale(0.2812,0.2933)" style="font:100px 'DejaVu Serif', serif;font-size:100px" fill="#000" stroke="#000" stroke-width="2.09">-0.05</text>
<text transform="translate(301.65,498.71) scale(0.2785,0.2933)" style="font:100px 'DejaVu Serif', serif;font-size:100px" fill="#000" stroke="#000" stroke-width="2.10">0.00</text>
<text transform="translate(414.74,498.71) scale(0.2803,0.2933)" style="font:100px 'DejaVu Serif', serif;font-size:100px" fill="#000" stroke="#000" stroke-width="2.09">0.05</text>
<text transform="translate(526.07,498.71) scale(0.2751,0.2933)" style="font:100px 'DejaVu Serif', serif;font-size:100px" fill="#000" stroke="#000" stroke-width="2.11">0.10</text>
<text transform="translate(617.45,28.61) scale(0.2838,0.2880)" style="font:100px 'DejaVu Serif', serif;font-size:100px" fill="#000" stroke="#000" stroke-width="2.10">50</text>
<text transform="translate(619.19,75.78) scale(0.2692,0.2880)" style="font:100px 'DejaVu Serif', serif;font-size:100px" fill="#000" stroke="#000" stroke-width="2.15">40</text>
<text transform="translate(617.75,122.95) scale(0.2812,0.2880)" style="font:100px 'DejaVu Serif', serif;font-size:100px" fill="#000" stroke="#000" stroke-width="2.11">30</text>
<text transform="translate(618.05,170.12) scale(0.2788,0.2880)" style="font:100px 'DejaVu Serif', serif;font-size:100px" fill="#000" stroke="#000" stroke-width="2.12">20</text>
<text transform="translate(616.50,217.29) scale(0.2917,0.2880)" style="font:100px 'DejaVu Serif', serif;font-size:100px" fill="#000" stroke="#000" stroke-width="2.07">10</text>
<text transform="translate(617.90,264.46) scale(0.3000,0.2880)" style="font:100px 'DejaVu Serif', serif;font-size:100px" fill="#000" stroke="#000" stroke-width="2.04">0</text>
<text transform="translate(618.87,311.63) scale(0.2820,0.2880)" style="font:100px 'DejaVu Serif', serif;font-size:100px" fill="#000" stroke="#000" stroke-width="2.11">-10</text>
<text transform="translate(618.87,358.80) scale(0.2820,0.2880)" style="font:100px 'DejaVu Serif', serif;font-size:100px" fill="#000" stroke="#000" stroke-width="2.11">-20</text>
<text transform="translate(618.87,405.97) scale(0.2820,0.2880)" style="font:100px 'DejaVu Serif', serif;font-size:100px" fill="#000" stroke="#000" stroke-width="2.11">-30</text>
<text transform="translate(618.87,453.14) scale(0.2820,0.2880)" style="font:100px 'DejaVu Serif', serif;font-size:100px" fill="#000" stroke="#000" stroke-width="2.11">-40</text>
<text transform="translate(694.58,352.62) scale(0.3191,0.2872) rotate(-90)" style="font:100px 'DejaVu Serif', serif;font-size:100px" fill="#000" stroke="#000" stroke-width="1.98">Energy</text>
<text transform="translate(695.83,242.00) scale(0.3444,0.2997) rotate(-90)" style="font:100px 'DejaVu Serif', serif;font-size:100px" fill="#000" stroke="#000" stroke-width="1.86">(meV)</text>
<text transform="translate(272.99,529.73) scale(0.3702,0.3714)" style="font:italic 100px 'Liberation Serif', serif;font-size:100px" fill="#000">d</text>
<text transform="translate(293.09,536.20) scale(0.2889,0.2543)" style="font:italic 100px 'Liberation Serif', serif;font-size:100px" fill="#000">x</text>
<text transform="translate(307.80,528.40) scale(0.2500,0.1738)" style="font:100px 'Liberation Serif', serif;font-size:100px" fill="#000">2</text>
<text transform="translate(322.55,540.02) scale(0.3702,0.3200)" style="font:100px 'Liberation Serif', serif;font-size:100px" fill="#000">−</text>
<text transform="translate(347.76,535.61) scale(0.2577,0.2328)" style="font:italic 100px 'Liberation Serif', serif;font-size:100px" fill="#000">y</text>
<text transform="translate(360.35,528.40) scale(0.2375,0.1738)" style="font:100px 'Liberation Serif', serif;font-size:100px" fill="#000">2</text>
<text transform="translate(382.13,533.70) scale(0.2708,0.3133)" style="font:100px 'DejaVu Serif', serif;font-size:100px" fill="#000" stroke="#000" stroke-width="2.05">(</text>
<text transform="translate(392.62,532.59) scale(0.2833,0.2924)" style="font:100px 'DejaVu Sans', sans-serif;font-size:100px" fill="#000">Å</text>
<text transform="translate(410.12,533.70) scale(0.3250,0.3133)" style="font:100px 'DejaVu Serif', serif;font-size:100px" fill="#000" stroke="#000" stroke-width="1.88">)</text>
<text transform="translate(26.53,266.86) scale(0.3700,0.3872) rotate(-90)" style="font:italic 100px 'Liberation Serif', serif;font-size:100px" fill="#000">d</text>
<text transform="translate(33.00,246.09) scale(0.2652,0.3053) rotate(-90)" style="font:italic 100px 'Liberation Serif', serif;font-size:100px" fill="#000">z</text>
<text transform="translate(25.40,234.54) scale(0.1954,0.2487) rotate(-90)" style="font:100px 'Liberation Serif', serif;font-size:100px" fill="#000">2</text>
<text transform="translate(28.27,215.90) scale(0.3156,0.2750) rotate(-90)" style="font:100px 'DejaVu Serif', serif;font-size:100px" fill="#000" stroke="#000" stroke-width="2.03">(</text>
<text transform="translate(27.19,205.79) scale(0.2870,0.2924) rotate(-90)" style="font:100px 'DejaVu Sans', sans-serif;font-size:100px" fill="#000">Å</text>
<text transform="translate(28.27,187.12) scale(0.3156,0.2750) rotate(-90)" style="font:100px 'DejaVu Serif', serif;font-size:100px" fill="#000" stroke="#000" stroke-width="2.03">)</text>
<text transform="translate(108.07,119.54) scale(0.3766,0.3586)" style="font:italic 100px 'Liberation Serif', serif;font-size:100px" fill="#000">d</text>
<text transform="translate(128.29,126.20) scale(0.2867,0.2565)" style="font:italic 100px 'Liberation Serif', serif;font-size:100px" fill="#000">x</text>
<text transform="translate(143.20,118.40) scale(0.2500,0.1815)" style="font:100px 'Liberation Serif', serif;font-size:100px" fill="#000">2</text>
<text transform="translate(507.56,128.34) scale(0.3809,0.3629)" style="font:italic 100px 'Liberation Serif', serif;font-size:100px" fill="#000">d</text>
<text transform="translate(528.98,133.80) scale(0.2481,0.2478)" style="font:italic 100px 'Liberation Serif', serif;font-size:100px" fill="#000">y</text>
<text transform="translate(541.80,127.80) scale(0.2500,0.1785)" style="font:100px 'Liberation Serif', serif;font-size:100px" fill="#000">2</text>
<text transform="translate(480.89,421.94) scale(0.3702,0.3586)" style="font:italic 100px 'Liberation Serif', serif;font-size:100px" fill="#000">d</text>
<text transform="translate(501.11,428.90) scale(0.3128,0.2652)" style="font:italic 100px 'Liberation Serif', serif;font-size:100px" fill="#000">z</text>
<text transform="translate(514.64,421.20) scale(0.2400,0.1831)" style="font:100px 'Liberation Serif', serif;font-size:100px" fill="#000">2</text>
<text transform="translate(794.49,62.20) scale(0.3020,0.2960)" style="font:100px 'DejaVu Serif', serif;font-size:100px" fill="#000" stroke="#000" stroke-width="2.01">0</text>
<text transform="translate(785.43,145.12) scale(0.3165,0.3000)" style="font:100px 'DejaVu Serif', serif;font-size:100px" fill="#000" stroke="#000" stroke-width="1.95">-1</text>
<text transform="translate(785.51,227.74) scale(0.2976,0.3000)" style="font:100px 'DejaVu Serif', serif;font-size:100px" fill="#000" stroke="#000" stroke-width="2.01">-2</text>
<text transform="translate(785.54,310.06) scale(0.2907,0.2960)" style="font:100px 'DejaVu Serif', serif;font-size:100px" fill="#000" stroke="#000" stroke-width="2.05">-3</text>
<text transform="translate(785.56,392.98) scale(0.2841,0.3000)" style="font:100px 'DejaVu Serif', serif;font-size:100px" fill="#000" stroke="#000" stroke-width="2.05">-4</text>
<text transform="translate(785.54,475.30) scale(0.2907,0.3000)" style="font:100px 'DejaVu Serif', serif;font-size:100px" fill="#000" stroke="#000" stroke-width="2.03">-5</text>
<text transform="translate(806.71,495.21) scale(0.2732,0.2933)" style="font:100px 'DejaVu Serif', serif;font-size:100px" fill="#000" stroke="#000" stroke-width="2.12">30</text>
<text transform="translate(909.65,495.21) scale(0.2615,0.2933)" style="font:100px 'DejaVu Serif', serif;font-size:100px" fill="#000" stroke="#000" stroke-width="2.16">40</text>
<text transform="translate(1009.48,495.21) scale(0.2757,0.2933)" style="font:100px 'DejaVu Serif', serif;font-size:100px" fill="#000" stroke="#000" stroke-width="2.11">50</text>
<text transform="translate(1111.59,495.21) scale(0.2708,0.2933)" style="font:100px 'DejaVu Serif', serif;font-size:100px" fill="#000" stroke="#000" stroke-width="2.13">60</text>
<text transform="translate(1212.83,495.21) scale(0.2732,0.2933)" style="font:100px 'DejaVu Serif', serif;font-size:100px" fill="#000" stroke="#000" stroke-width="2.12">70</text>
<text transform="translate(1314.65,495.21) scale(0.2708,0.2933)" style="font:100px 'DejaVu Serif', serif;font-size:100px" fill="#000" stroke="#000" stroke-width="2.13">80</text>
<text transform="translate(1416.47,495.21) scale(0.2684,0.2933)" style="font:100px 'DejaVu Serif', serif;font-size:100px" fill="#000" stroke="#000" stroke-width="2.14">90</text>
<text transform="translate(1096.09,532.90) scale(0.4593,0.3862)" style="font:italic 100px 'Liberation Serif', serif;font-size:100px" fill="#000">T</text>
<text transform="translate(1131.53,532.77) scale(0.3336,0.3489)" style="font:100px 'DejaVu Serif', serif;font-size:100px" fill="#000" stroke="#000" stroke-width="1.76">(K)</text>
<text transform="translate(776.50,356.68) scale(0.3042,0.2966) rotate(-90)" style="font:100px 'DejaVu Serif', serif;font-size:100px" fill="#000" stroke="#000" stroke-width="2.00">E</text>
<text transform="translate(780.71,328.87) scale(0.1867,0.1728) rotate(-90)" style="font:100px 'DejaVu Serif', serif;font-size:100px" fill="#000" stroke="#000" stroke-width="1.67">TOT</text>
<text transform="translate(776.61,286.34) scale(0.3462,0.2930) rotate(-90)" style="font:100px 'DejaVu Serif', serif;font-size:100px" fill="#000" stroke="#000" stroke-width="1.88">(meV/f.u.)</text>
<text transform="translate(865.05,141.21) scale(0.3156,0.3235)" style="font:italic 100px 'Liberation Serif', serif;font-size:100px" fill="#000">q</text>
<text transform="translate(881.12,126.32) scale(0.2396,0.2756)" style="font:100px 'Liberation Serif', serif;font-size:100px" fill="#000">[001]</text>
<text transform="translate(880.46,152.35) scale(0.2629,0.2315)" style="font:italic 100px 'Liberation Serif', serif;font-size:100px" fill="#000">x</text>
<text transform="translate(893.85,145.25) scale(0.2275,0.1582)" style="font:100px 'Liberation Serif', serif;font-size:100px" fill="#000">2</text>
<text transform="translate(907.27,155.82) scale(0.3369,0.2912)" style="font:100px 'Liberation Serif', serif;font-size:100px" fill="#000">−</text>
<text transform="translate(930.22,151.81) scale(0.2345,0.2119)" style="font:italic 100px 'Liberation Serif', serif;font-size:100px" fill="#000">y</text>
<text transform="translate(941.67,145.25) scale(0.2161,0.1582)" style="font:100px 'Liberation Serif', serif;font-size:100px" fill="#000">2</text>
<text transform="translate(899.50,301.21) scale(0.3333,0.3235)" style="font:italic 100px 'Liberation Serif', serif;font-size:100px" fill="#000">q</text>
<text transform="translate(916.39,285.95) scale(0.2579,0.3037)" style="font:100px 'Liberation Serif', serif;font-size:100px" fill="#000">[000]</text>
<text transform="translate(916.31,305.20) scale(0.3078,0.2478)" style="font:italic 100px 'Liberation Serif', serif;font-size:100px" fill="#000">xy</text>
<text transform="translate(1286.26,276.17) scale(0.2200,0.2015)" style="font:italic 100px 'Liberation Serif', serif;font-size:100px" fill="#000">yz</text>
<text transform="translate(1285.26,364.70) scale(0.2554,0.2152)" style="font:italic 100px 'Liberation Serif', serif;font-size:100px" fill="#000">xz</text>
<text transform="translate(1285.24,408.07) scale(0.2444,0.2015)" style="font:italic 100px 'Liberation Serif', serif;font-size:100px" fill="#000">xy</text>
<text transform="translate(1284.14,233.50) scale(0.2378,0.2152)" style="font:italic 100px 'Liberation Serif', serif;font-size:100px" fill="#000">x</text>
<text transform="translate(1295.10,226.10) scale(0.1750,0.1585)" style="font:100px 'Liberation Serif', serif;font-size:100px" fill="#000">2</text>
<text transform="translate(1305.08,236.98) scale(0.2638,0.2800)" style="font:100px 'Liberation Serif', serif;font-size:100px" fill="#000">−</text>
<text transform="translate(1322.28,232.87) scale(0.1846,0.2015)" style="font:italic 100px 'Liberation Serif', serif;font-size:100px" fill="#000">y</text>
<text transform="translate(1331.41,226.10) scale(0.1725,0.1585)" style="font:100px 'Liberation Serif', serif;font-size:100px" fill="#000">2</text>
<text transform="translate(1284.74,320.60) scale(0.2410,0.2109)" style="font:italic 100px 'Liberation Serif', serif;font-size:100px" fill="#000">z</text>
<text transform="translate(1294.60,313.40) scale(0.1750,0.1585)" style="font:100px 'Liberation Serif', serif;font-size:100px" fill="#000">2</text>
<text transform="translate(1044.64,452.40) scale(0.2378,0.2152)" style="font:italic 100px 'Liberation Serif', serif;font-size:100px" fill="#000">x</text>
<text transform="translate(1055.60,445.00) scale(0.1750,0.1585)" style="font:100px 'Liberation Serif', serif;font-size:100px" fill="#000">2</text>
<text transform="translate(1065.58,455.88) scale(0.2638,0.2800)" style="font:100px 'Liberation Serif', serif;font-size:100px" fill="#000">−</text>
<text transform="translate(1082.78,451.77) scale(0.1846,0.2015)" style="font:italic 100px 'Liberation Serif', serif;font-size:100px" fill="#000">y</text>
<text transform="translate(1091.91,445.00) scale(0.1725,0.1585)" style="font:100px 'Liberation Serif', serif;font-size:100px" fill="#000">2</text>
<text transform="translate(1110.70,451.77) scale(0.2244,0.2015)" style="font:italic 100px 'Liberation Serif', serif;font-size:100px" fill="#000">yz</text>
<text transform="translate(1157.04,452.40) scale(0.2410,0.2109)" style="font:italic 100px 'Liberation Serif', serif;font-size:100px" fill="#000">z</text>
<text transform="translate(1166.90,445.00) scale(0.1750,0.1585)" style="font:100px 'Liberation Serif', serif;font-size:100px" fill="#000">2</text>
<text transform="translate(1195.16,452.40) scale(0.2590,0.2152)" style="font:italic 100px 'Liberation Serif', serif;font-size:100px" fill="#000">xz</text>
<text transform="translate(1240.74,451.77) scale(0.2400,0.2015)" style="font:italic 100px 'Liberation Serif', serif;font-size:100px" fill="#000">xy</text>
<text transform="translate(1368.27,236.75) scale(0.2894,0.2297)" style="font:100px 'DejaVu Serif', serif;font-size:100px" fill="#000" stroke="#000" stroke-width="0.77">2</text>
<text transform="translate(1365.89,281.45) scale(0.3676,0.2297)" style="font:100px 'DejaVu Serif', serif;font-size:100px" fill="#000" stroke="#000" stroke-width="0.67">1</text>
<text transform="translate(1368.40,325.92) scale(0.2720,0.2267)" style="font:100px 'DejaVu Serif', serif;font-size:100px" fill="#000" stroke="#000" stroke-width="0.80">0</text>
<text transform="translate(1369.16,370.85) scale(0.2861,0.2297)" style="font:100px 'DejaVu Serif', serif;font-size:100px" fill="#000" stroke="#000" stroke-width="0.78">-1</text>
<text transform="translate(1369.22,415.55) scale(0.2690,0.2297)" style="font:100px 'DejaVu Serif', serif;font-size:100px" fill="#000" stroke="#000" stroke-width="0.80">-2</text>
<text transform="translate(1391.91,284.45) scale(0.3096,0.2625) rotate(90)" style="font:100px 'DejaVu Serif', serif;font-size:100px" fill="#000" stroke="#000" stroke-width="1.05">meV</text>
<text transform="translate(1511.07,476.52) scale(0.2756,0.2800)" style="font:100px 'DejaVu Serif', serif;font-size:100px" fill="#000" stroke="#000" stroke-width="2.16">0.00</text>
<text transform="translate(1511.06,392.30) scale(0.2769,0.2800)" style="font:100px 'DejaVu Serif', serif;font-size:100px" fill="#000" stroke="#000" stroke-width="2.15">0.05</text>
<text transform="translate(1511.07,308.08) scale(0.2756,0.2800)" style="font:100px 'DejaVu Serif', serif;font-size:100px" fill="#000" stroke="#000" stroke-width="2.16">0.10</text>
<text transform="translate(1511.06,223.86) scale(0.2769,0.2800)" style="font:100px 'DejaVu Serif', serif;font-size:100px" fill="#000" stroke="#000" stroke-width="2.15">0.15</text>
<text transform="translate(1511.07,139.64) scale(0.2756,0.2800)" style="font:100px 'DejaVu Serif', serif;font-size:100px" fill="#000" stroke="#000" stroke-width="2.16">0.20</text>
<text transform="translate(1511.06,55.42) scale(0.2769,0.2800)" style="font:100px 'DejaVu Serif', serif;font-size:100px" fill="#000" stroke="#000" stroke-width="2.15">0.25</text>
<text transform="translate(1590.00,502.21) scale(0.2847,0.2867)" style="font:100px 'DejaVu Serif', serif;font-size:100px" fill="#000" stroke="#000" stroke-width="2.10">50</text>
<text transform="translate(1646.77,502.21) scale(0.2756,0.2867)" style="font:100px 'DejaVu Serif', serif;font-size:100px" fill="#000" stroke="#000" stroke-width="2.13">100</text>
<text transform="translate(1712.19,502.21) scale(0.2756,0.2867)" style="font:100px 'DejaVu Serif', serif;font-size:100px" fill="#000" stroke="#000" stroke-width="2.13">150</text>
<text transform="translate(1779.04,502.21) scale(0.2678,0.2867)" style="font:100px 'DejaVu Serif', serif;font-size:100px" fill="#000" stroke="#000" stroke-width="2.16">200</text>
<text transform="translate(1844.45,502.21) scale(0.2678,0.2867)" style="font:100px 'DejaVu Serif', serif;font-size:100px" fill="#000" stroke="#000" stroke-width="2.16">250</text>
<text transform="translate(1909.59,502.21) scale(0.2693,0.2867)" style="font:100px 'DejaVu Serif', serif;font-size:100px" fill="#000" stroke="#000" stroke-width="2.16">300</text>
<text transform="translate(1975.00,502.21) scale(0.2693,0.2867)" style="font:100px 'DejaVu Serif', serif;font-size:100px" fill="#000" stroke="#000" stroke-width="2.16">350</text>
<text transform="translate(1760.28,534.40) scale(0.4463,0.3862)" style="font:italic 100px 'Liberation Serif', serif;font-size:100px" fill="#000">T</text>
<text transform="translate(1795.63,534.27) scale(0.3336,0.3489)" style="font:100px 'DejaVu Serif', serif;font-size:100px" fill="#000" stroke="#000" stroke-width="1.76">(K)</text>
<text transform="translate(1497.22,318.36) scale(0.3134,0.3296) rotate(-90)" style="font:italic 100px 'Liberation Serif', serif;font-size:100px" fill="#000">χ</text>
<text transform="translate(1501.88,302.37) scale(0.2188,0.2564) rotate(-90)" style="font:italic 100px 'Liberation Serif', serif;font-size:100px" fill="#000">e</text>
<text transform="translate(1505.65,286.21) scale(0.3567,0.2894) rotate(-90)" style="font:100px 'DejaVu Serif', serif;font-size:100px" fill="#000" stroke="#000" stroke-width="1.86">(1/meV)</text>
<text transform="translate(1933.71,109.49) scale(0.2978,0.2912)" style="font:italic 100px 'Liberation Serif', serif;font-size:100px" fill="#000">q</text>
<text transform="translate(1949.62,95.73) scale(0.2262,0.2671)" style="font:100px 'Liberation Serif', serif;font-size:100px" fill="#000">[000]</text>
<text transform="translate(1949.14,120.20) scale(0.2359,0.2109)" style="font:italic 100px 'Liberation Serif', serif;font-size:100px" fill="#000">z</text>
<text transform="translate(1960.07,113.30) scale(0.2075,0.1415)" style="font:100px 'Liberation Serif', serif;font-size:100px" fill="#000">2</text>
<text transform="translate(1933.79,165.47) scale(0.3022,0.2824)" style="font:italic 100px 'Liberation Serif', serif;font-size:100px" fill="#000">q</text>
<text transform="translate(1948.05,149.98) scale(0.2361,0.2476)" style="font:100px 'Liberation Serif', serif;font-size:100px" fill="#000">[000]</text>
<text transform="translate(1949.18,166.95) scale(0.2756,0.2119)" style="font:italic 100px 'Liberation Serif', serif;font-size:100px" fill="#000">xy</text>
<text transform="translate(1934.19,219.51) scale(0.2689,0.2853)" style="font:italic 100px 'Liberation Serif', serif;font-size:100px" fill="#000">q</text>
<text transform="translate(1949.70,205.40) scale(0.2292,0.2695)" style="font:100px 'Liberation Serif', serif;font-size:100px" fill="#000">[001]</text>
<text transform="translate(1948.75,230.27) scale(0.2510,0.2210)" style="font:italic 100px 'Liberation Serif', serif;font-size:100px" fill="#000">x</text>
<text transform="translate(1961.54,223.49) scale(0.2173,0.1511)" style="font:100px 'Liberation Serif', serif;font-size:100px" fill="#000">2</text>
<text transform="translate(1974.35,233.59) scale(0.3217,0.2781)" style="font:100px 'Liberation Serif', serif;font-size:100px" fill="#000">−</text>
<text transform="translate(1996.26,229.75) scale(0.2239,0.2023)" style="font:italic 100px 'Liberation Serif', serif;font-size:100px" fill="#000">y</text>
<text transform="translate(2007.20,223.49) scale(0.2064,0.1511)" style="font:100px 'Liberation Serif', serif;font-size:100px" fill="#000">2</text>
</svg>
<script>
(function(){
var c=document.getElementById('hm'); if(!c||!c.getContext) return;
var ctx=c.getContext('2d'), W=c.width, H=c.height, img=ctx.createImageData(W,H), d=img.data;
var SV=[-44.6,-35,-25,-15,-5,0,3,10,20,30,40,50.9];
var SC=[[8,48,107],[8,70,138],[9,96,172],[8,122,192],[7,147,204],[10,160,210],[32,166,213],[92,184,221],[139,202,229],[180,219,236],[215,234,244],[244,247,251]];
var P={a:4600,pe:1.6,T:8,w:0.85,off:-1.5,A:1400,p:1,aT:36,aB:47,s0:0.054};
var ms=[[-0.05196,0.03],[0.05196,0.03],[0,-0.06]];
var arms=[[90,P.aT],[210,P.aB],[330,P.aB]];
for(var q=0;q<3;q++){var a=arms[q][0]*Math.PI/180, al=arms[q][1]*Math.PI/180; arms[q]=[Math.cos(a),Math.sin(a),Math.sin(al),Math.cos(al)];}
function cmap(E){
  if(E<=SV[0]) return SC[0]; if(E>=SV[SV.length-1]) return SC[SC.length-1];
  for(var i=1;i<SV.length;i++){ if(E<=SV[i]){ var t=(E-SV[i-1])/(SV[i]-SV[i-1]), a=SC[i-1], b=SC[i];
    return [a[0]+(b[0]-a[0])*t, a[1]+(b[1]-a[1])*t, a[2]+(b[2]-a[2])*t]; } }
}
for(var j=0;j<H;j++){ for(var i=0;i<W;i++){
  var X=104+i+0.5, Y=8+j+0.5, dx=X-330, dy=Y-233, r=Math.sqrt(dx*dx+dy*dy);
  var al=208.3-r+0.5; if(al<=0) continue; if(al>1) al=1;
  var u=(X-330)/2260, v=(233.75-Y)/2262.5, pp=[0,0,0];
  for(var m=0;m<3;m++){ var ex=u-ms[m][0], ey=v-ms[m][1]; pp[m]=P.a*Math.pow(Math.sqrt(ex*ex+ey*ey),P.pe); }
  var hard=Math.min(pp[0],pp[1],pp[2]);
  var soft=-P.T*Math.log(Math.exp(-(pp[0]-hard)/P.T)+Math.exp(-(pp[1]-hard)/P.T)+Math.exp(-(pp[2]-hard)/P.T))+hard;
  var E=P.w*hard+(1-P.w)*soft-45+P.off;
  for(var q=0;q<3;q++){ var A=arms[q]; var s=u*A[0]+v*A[1], t=-u*A[1]+v*A[0];
    var dd=(s-P.s0)*A[2]-Math.abs(t)*A[3]; if(dd>0) E+=P.A*Math.pow(dd,P.p); }
  var col=cmap(E), k=4*(j*W+i);
  d[k]=col[0]; d[k+1]=col[1]; d[k+2]=col[2]; d[k+3]=Math.round(al*255);
}}
ctx.putImageData(img,0,0);
})();

</script>
</body></html>
